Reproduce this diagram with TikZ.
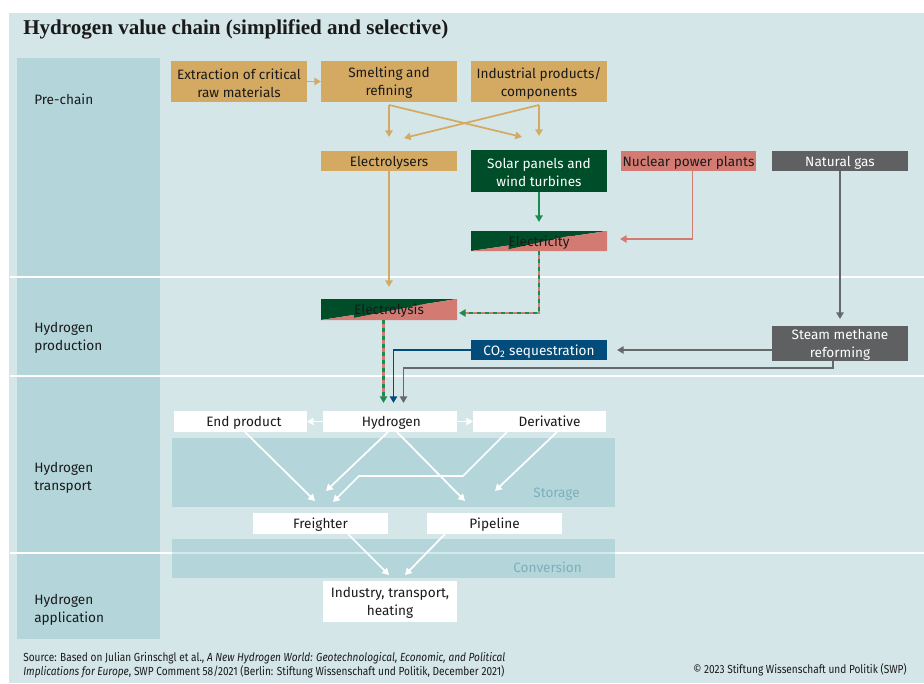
\documentclass[tikz,border=0pt]{standalone}
\usepackage{fontspec}
\setmainfont{Fira Sans}
\newfontfamily\titlefont{Liberation Serif}
\newfontfamily\srcfont[FakeStretch=0.86]{Fira Sans}
\usetikzlibrary{arrows.meta,calc}
\definecolor{bg}{HTML}{D5E6E9}
\definecolor{colband}{HTML}{B4D6DB}
\definecolor{tan}{HTML}{D4AA62}
\definecolor{dgreen}{HTML}{004D29}
\definecolor{agreen}{HTML}{1B8C50}
\definecolor{salmon}{HTML}{D37B73}
\definecolor{dgray}{HTML}{5E6061}
\definecolor{lgray}{HTML}{666869}
\definecolor{dblue}{HTML}{014C7A}
\definecolor{bandtext}{HTML}{7CB0B8}
\definecolor{ink}{HTML}{1A1A1A}
\newcommand\mybox[7]{\node[box,#6,minimum width={(#4-#2)*0.75pt},minimum height={(#5-#3)*0.75pt}] (#1) at ({(#2+#4)/2},{(#3+#5)/2}) {};
  \node[boxtext,#6,fill=none] (#1-t) at ($(#1.center)+(0,1.6)$) {#7};}
\tikzset{
  box/.style={inner sep=0pt,outer sep=0pt},
  boxtext/.style={inner sep=0pt,outer sep=0pt,align=center,text=ink,font=\fontsize{10.2}{13.5}\selectfont},
  tanbox/.style={fill=tan},
  greenbox/.style={fill=dgreen,text=white},
  salbox/.style={fill=salmon},
  graybox/.style={fill=dgray,text=white},
  bluebox/.style={fill=dblue,text=white},
  whitebox/.style={fill=white},
  splitbox/.style={path picture={
     \fill[dgreen] (path picture bounding box.south west) -- (path picture bounding box.north west) -- (path picture bounding box.north east) -- cycle;
     \fill[salmon] (path picture bounding box.south west) -- (path picture bounding box.north east) -- (path picture bounding box.south east) -- cycle;}},
  tip/.tip={Triangle[length=5pt,width=5.5pt]},
  conn/.style={line width=1.3pt,-tip},
  tanarr/.style={conn,draw=tan},
  grarr/.style={conn,draw=agreen},
  salarr/.style={conn,draw=salmon},
  grayarr/.style={conn,draw=lgray},
  bluearr/.style={conn,draw=dblue},
  wharr/.style={conn,draw=white},
  dashbase/.style={line width=2pt,draw=salmon,shorten >=4pt},
  dashtop/.style={line width=2pt,draw=agreen,dash pattern=on 3pt off 3pt,-tip},
  lab/.style={anchor=west,align=left,inner sep=0pt,text=ink,font=\fontsize{10.2}{13.5}\selectfont},
  bandlab/.style={anchor=east,inner sep=0pt,text=bandtext,font=\fontsize{10.2}{12}\selectfont}
}
\begin{document}
\begin{tikzpicture}[x=0.75pt,y=-0.75pt]
\useasboundingbox (0,0) rectangle (924,683);
\fill[bg] (9,13) rectangle (924,683);
% left column
\fill[colband] (17,58) rectangle (160,639);
% bands
\fill[colband] (172,438) rectangle (615,507);
\fill[colband] (172,539) rectangle (615,578);
% separators
\foreach \yy in {277,376,553} \draw[white,line width=1.5pt] (10,\yy) -- (924,\yy);
\fill[colband,opacity=0.55] (172,539) rectangle (615,578);
% title
\node[anchor=west,inner sep=0pt,text=ink,font=\titlefont\bfseries\fontsize{15.8}{18}\selectfont] (title) at (23,29) {Hydrogen value chain (simplified and selective)};
% stage labels
\node[lab] (l1) at (34,99) {Pre-chain};
\node[lab] (l2) at (34,337.5) {Hydrogen\\production};
\node[lab] (l3) at (34,478) {Hydrogen\\transport};
\node[lab] (l4) at (34,610) {Hydrogen\\application};
\node[bandlab] (storage) at (580,494) {Storage};
\node[bandlab] (conversion) at (582,567) {Conversion};
% boxes
\mybox{extr}{171}{61}{307}{102}{tanbox}{Extraction of critical\\raw materials}
\mybox{smelt}{321}{61}{457}{102}{tanbox}{Smelting and\\refining}
\mybox{indus}{471}{61}{607}{102}{tanbox}{Industrial products/\\components}
\mybox{elys}{321}{151}{457}{171}{tanbox}{Electrolysers}
\mybox{solar}{471}{150}{607}{192}{greenbox}{Solar panels and\\wind turbines}
\mybox{nuc}{621}{151}{756}{171}{salbox}{Nuclear power plants}
\mybox{ng}{772}{151}{908}{171}{graybox}{Natural gas}
\mybox{elec}{471}{231}{607}{251}{splitbox}{Electricity}
\mybox{elysis}{321}{299}{457}{320}{splitbox}{Electrolysis}
\mybox{co2}{471}{340}{607}{360}{bluebox}{CO\textsubscript{2} sequestration}
\mybox{smr}{772}{326}{908}{361}{graybox}{Steam methane\\reforming}
\mybox{endp}{174}{411}{307}{432}{whitebox}{\hspace*{5pt}End product}
\mybox{hyd}{323}{411}{457}{432}{whitebox}{\hspace*{2pt}Hydrogen}
\mybox{deriv}{473}{411}{606}{432}{whitebox}{\hspace*{15pt}Derivative\vphantom{g}}
\mybox{freight}{253}{513}{388}{534}{whitebox}{Freighter}
\mybox{pipe}{427}{513}{562}{534}{whitebox}{Pipeline}
\mybox{ith}{323}{581}{457}{622}{whitebox}{Industry, transport,\\heating}
% pre-chain connectors
\draw[tanarr] (extr) -- (smelt);
\draw[tanarr] ($(smelt.south)+(0,3)$) -- ($(elys.north)+(0,-14)$);
\draw[tanarr] ($(smelt.south)+(0,3)$) -- ($(solar.north)+(-17,-13)$);
\draw[tanarr] ($(indus.south)+(0,3)$) -- ($(solar.north)+(0,-14)$);
\draw[tanarr] ($(indus.south)+(0,3)$) -- ($(elys.north)+(15,-13)$);
\draw[tanarr] (elys.south) -- ($(elysis.north)+(0,-12)$);
\draw[grarr] (solar.south) -- ($(elec.north)+(0,-9)$);
\draw[salarr] ($(nuc.south)+(4,0)$) |- ($(elec.east)+(13,-2)$);
\draw[grayarr] (ng.south) -- ($(smr.north)+(0,-7)$);
\draw[grayarr] (smr.west |- co2.east) -- ($(co2.east)+(10,0)$);
% electricity -> electrolysis (dashed bicolour)
\draw[dashbase] (elec.south) |- ($(elysis.east)+(2,3.5)$);
\draw[dashtop] (elec.south) |- ($(elysis.east)+(2,3.5)$);
% to hydrogen
\draw[dashbase] ($(elysis.south)+(-5.5,0)$) -- ($(hyd.north)+(-6.5,-8)$);
\draw[dashtop] ($(elysis.south)+(-5.5,0)$) -- ($(hyd.north)+(-6.5,-8)$);
\draw[bluearr] (co2.west) -| ($(hyd.north)+(3.5,-8)$);
\draw[grayarr] ($(smr.south)+(-7,0)$) -- ++(0,7) -| ($(hyd.north)+(13.5,-8)$);
% transport
\draw[wharr] (hyd) -- (endp);
\draw[wharr] (hyd) -- (deriv);
\draw[wharr] ($(endp.south)+(4.5,0)$) -- ($(freight.north)+(-5.5,-12)$);
\draw[wharr] ($(hyd.south)+(-2,0)$) -- ($(freight.north)+(5.5,-22)$);
\draw[wharr] ($(hyd.south)+(7,0)$) -- ($(pipe.north)+(-29.5,-12)$);
\draw[wharr] ($(deriv.south)+(-32.5,0)$) -- ++(-44,44) -- ++(-104,0) -- ($(freight.north)+(12.5,-11)$);
\draw[wharr] ($(deriv.south)+(17.5,0)$) -- ($(pipe.north)+(0.5,-22)$);
\draw[wharr] ($(freight.south)+(27.5,0)$) -- ($(ith.north)+(-1,-6)$);
\draw[wharr] ($(pipe.south)+(-49.5,0)$) -- ($(ith.north)+(15,-6)$);
% source
\node[anchor=north west,inner sep=0pt,align=left,text=ink,font=\srcfont\fontsize{8.8}{9.2}\selectfont] (src) at (23,652) {Source: Based on Julian Grinschgl et al., \textit{A New Hydrogen World: Geotechnological, Economic, and Political}\\\textit{Implications for Europe}, SWP Comment 58/2021 (Berlin: Stiftung Wissenschaft und Politik, December 2021)};
\node[anchor=base east,inner sep=0pt,text=ink,font=\srcfont\fontsize{8.8}{9.2}\selectfont] (copy) at (907,673.5) {© 2023 Stiftung Wissenschaft und Politik (SWP)};
\end{tikzpicture}
\end{document}
